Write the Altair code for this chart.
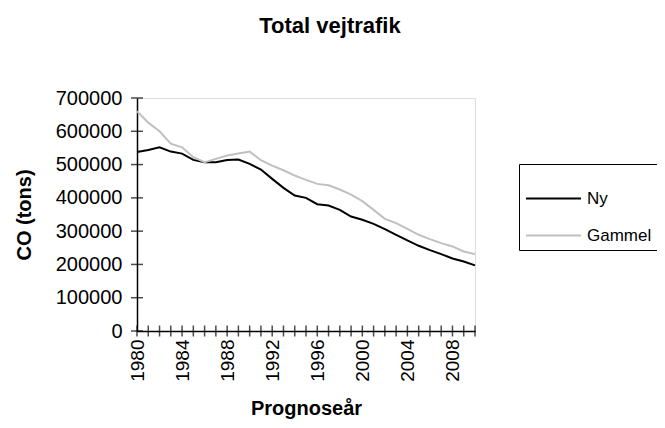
import altair as alt
import pandas as pd

years = list(range(1980, 2011))
ny = [538000, 544000, 552000, 539000, 533000, 514000, 507000, 507000, 514000, 515000,
      502000, 485000, 457000, 430000, 407000, 400000, 381000, 377000, 364000, 344000,
      334000, 322000, 306000, 289000, 272000, 256000, 243000, 231000, 218000, 209000,
      197000]
gammel = [660000, 626000, 600000, 563000, 552000, 522000, 507000, 517000, 527000, 533000,
          539000, 513000, 497000, 483000, 467000, 454000, 442000, 438000, 425000, 410000,
          390000, 364000, 337000, 324000, 307000, 289000, 276000, 264000, 254000, 239000,
          231000]
series = ["Ny", "Gammel"]
colors = ["#000000", "#c0c0c0"]
y_ticks = [0, 100000, 200000, 300000, 400000, 500000, 600000, 700000]

FONT = "Liberation Sans"
W, H = 338, 233

df = pd.DataFrame({
    "År": years * 2,
    "CO": ny + gammel,
    "Serie": ["Ny"] * len(years) + ["Gammel"] * len(years),
})
xticks_df = pd.DataFrame({"År": years, "CO": [0] * len(years)})
yticks_df = pd.DataFrame({"År": [years[0]] * len(y_ticks), "CO": y_ticks})

xscale = alt.Scale(domain=[years[0], years[-1]], nice=False, zero=False)
yscale = alt.Scale(domain=[0, 700000], nice=False)

x_axis = alt.Axis(
    values=years,
    labelExpr="datum.value % 4 == 0 ? datum.value : ''",
    labelAngle=270, labelOverlap=False, labelFlush=False,
    ticks=False, grid=False, domainColor="black", domainWidth=1.5,
    labelFont=FONT, labelFontSize=19, labelColor="black", labelPadding=8,
    title="Prognoseår", titleFont=FONT, titleFontSize=20, titleFontWeight="bold",
    titleColor="black", titleY=77, titleBaseline="middle",
)
y_axis = alt.Axis(
    values=y_ticks, format="d", labelOverlap=False, labelFlush=False,
    ticks=False, grid=False, domainColor="black", domainWidth=1.5,
    labelFont=FONT, labelFontSize=20, labelColor="black", labelPadding=15,
    title="CO (tons)", titleFont=FONT, titleFontSize=20, titleFontWeight="bold",
    titleColor="black", titleAngle=270, titleX=-113, titleY=H / 2,
    titleAlign="center", titleBaseline="middle",
)
x_enc = alt.X("År:Q", scale=xscale, axis=x_axis)
y_enc = alt.Y("CO:Q", scale=yscale, axis=y_axis)

lines = alt.Chart(df).mark_line(strokeWidth=2).encode(
    x=x_enc,
    y=y_enc,
    color=alt.Color(
        "Serie:N",
        scale=alt.Scale(domain=series, range=colors),
        sort=series,
        legend=alt.Legend(
            title=None, orient="none", legendX=382, legendY=66,
            strokeColor="black", fillColor="white", padding=6,
            symbolType="stroke", symbolStrokeWidth=2, symbolSize=3025,
            labelFont=FONT, labelFontSize=17, labelColor="black",
            labelOffset=5, rowPadding=0,
        ),
    ),
)

xt = alt.Chart(xticks_df).mark_tick(orient="vertical", size=11, thickness=1.5, color="black").encode(
    x=x_enc, y=y_enc
)
yt = alt.Chart(yticks_df).mark_tick(orient="horizontal", size=12, thickness=1.5, color="black").encode(
    x=x_enc, y=y_enc
)

chart = alt.layer(lines, xt, yt).properties(
    width=W, height=H,
    title=alt.TitleParams(
        "Total vejtrafik", font=FONT, fontSize=22, fontWeight="bold", color="black",
        anchor="middle", dx=24, offset=50,
    ),
    autosize=alt.AutoSizeParams(type="none"),
    padding={"left": 129, "top": 90, "right": 182, "bottom": 89},
).configure_view(
    stroke="#808080", strokeWidth=1.5
).configure(background="white")

chart.save("out.html", embed_options={"renderer": "svg", "actions": False})
